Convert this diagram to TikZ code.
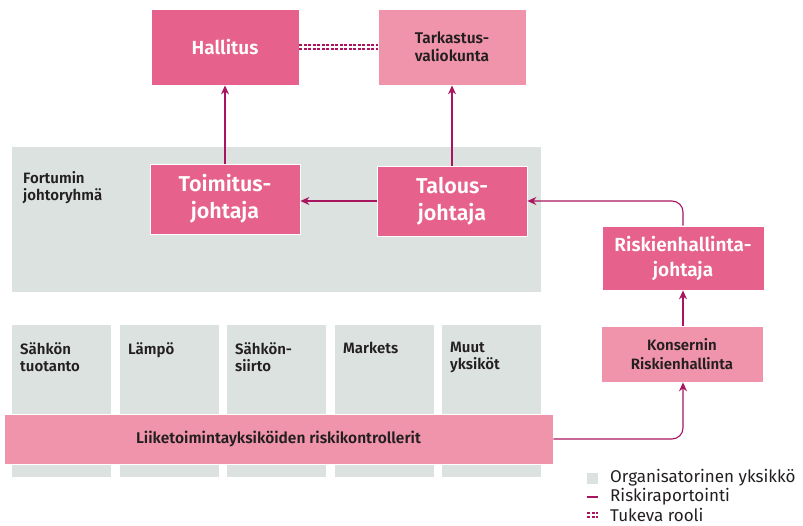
\documentclass[tikz,border=0pt]{standalone}
\usepackage{fontspec}
\setmainfont{Fira Sans}[BoldFont={Fira Sans SemiBold}]
\usetikzlibrary{arrows.meta}
\definecolor{darkpink}{HTML}{E6628C}
\definecolor{lightpink}{HTML}{F094AC}
\definecolor{unitgray}{HTML}{DCE2E0}
\definecolor{linec}{HTML}{AA145F}
\definecolor{txt}{HTML}{231F20}
\tikzset{
  darkbox/.style={draw=white, line width=0.8pt, fill=darkpink, text=white, font=\bfseries, align=center, inner sep=0pt},
  lightbox/.style={draw=white, line width=0.8pt, fill=lightpink, text=txt, font=\bfseries, align=center, inner sep=0pt},
  unitbox/.style={fill=unitgray, draw=none},
  unitlabel/.style={anchor=north west, text=txt, font=\bfseries\fontsize{15}{17}\selectfont, align=left, inner sep=0pt},
  arr/.style={draw=linec, line width=1.1pt, -{Stealth[length=9pt,width=8pt,inset=3pt]}},
  rep/.style={draw=linec, line width=1.1pt},
  dsh/.style={draw=linec, line width=1.1pt, dash pattern=on 3pt off 1.5pt},
  legtext/.style={anchor=west, text=txt, font=\fontsize{17}{19}\selectfont, inner sep=0pt}
}
\begin{document}
\begin{tikzpicture}[x=1pt,y=-1pt]
\useasboundingbox (0,0) rectangle (803,526);
% top
\node[darkbox, minimum width=148pt, minimum height=76pt, font=\bfseries\fontsize{19}{22}\selectfont] (hall) at (225,47) {Hallitus};
\node[lightbox, minimum width=148pt, minimum height=76pt, font=\bfseries\fontsize{15.5}{18.5}\selectfont] (tark) at (452,47) {Tarkastus-\\valiokunta};
\draw[dsh] ([yshift=2pt]hall.east) -- ([yshift=2pt]tark.west);
\draw[dsh] ([yshift=-2pt]hall.east) -- ([yshift=-2pt]tark.west);
% management group
\path[unitbox] (12,147) rectangle (541,292);
\node[unitlabel] (fort) at (23,171) {Fortumin\\johtoryhmä};
\node[darkbox, minimum width=150pt, minimum height=70pt, font=\bfseries\fontsize{21.5}{27}\selectfont] (toim) at (225,199) {Toimitus-\\johtaja};
\node[darkbox, minimum width=150pt, minimum height=70pt, font=\bfseries\fontsize{21.5}{27}\selectfont] (tal) at (452,201) {Talous-\\johtaja};
% units
\path[unitbox] (12,325) rectangle (111,477);
\path[unitbox] (120,325) rectangle (219,477);
\path[unitbox] (227,325) rectangle (326,477);
\path[unitbox] (335,325) rectangle (434,477);
\path[unitbox] (442,325) rectangle (541,477);
\node[unitlabel] (u1) at (20,342) {Sähkön\\tuotanto};
\node[unitlabel] (u2) at (128,342) {Lämpö};
\node[unitlabel] (u3) at (235,342) {Sähkön-\\siirto};
\node[unitlabel] (u4) at (343,342) {Markets};
\node[unitlabel] (u5) at (450,342) {Muut\\yksiköt};
\node[lightbox, minimum width=549pt, minimum height=50pt, font=\bfseries\fontsize{15.5}{18}\selectfont] (bar) at (278.5,439) {Liiketoimintayksiköiden riskikontrollerit};
% risk
\node[darkbox, minimum width=162pt, minimum height=64pt, font=\bfseries\fontsize{19}{25}\selectfont] (risk) at (683,258) {Riskienhallinta-\\johtaja};
\node[lightbox, minimum width=162pt, minimum height=56pt, font=\bfseries\fontsize{15}{18.5}\selectfont] (kons) at (682,354) {Konsernin\\Riskienhallinta};
% connectors
\draw[arr] (toim.north) -- (hall.south);
\draw[arr] (tal.north) -- (tark.south);
\draw[arr] (tal.west) -- (tal.west -| toim.east);
\draw[arr, rounded corners=11pt] (risk.north) |- (tal.east);
\draw[arr] (kons.north -| risk.south) -- (risk.south);
\draw[arr, rounded corners=11pt] (bar.east) -| (kons.south -| risk.south);
% legend
\path[unitbox] (587,473) rectangle (598,484);
\node[legtext] (l1) at (610,478) {Organisatorinen yksikkö};
\coordinate (r1) at (587,497);
\coordinate (r2) at (598,497);
\draw[rep] (r1) -- (r2);
\node[legtext] (l2) at (610,497) {Riskiraportointi};
\coordinate (d1) at (587,515);
\coordinate (d2) at (598,515);
\draw[dsh] ([yshift=2pt]d1) -- ([yshift=2pt]d2);
\draw[dsh] ([yshift=-2pt]d1) -- ([yshift=-2pt]d2);
\node[legtext] (l3) at (610,515) {Tukeva rooli};
\end{tikzpicture}
\end{document}
